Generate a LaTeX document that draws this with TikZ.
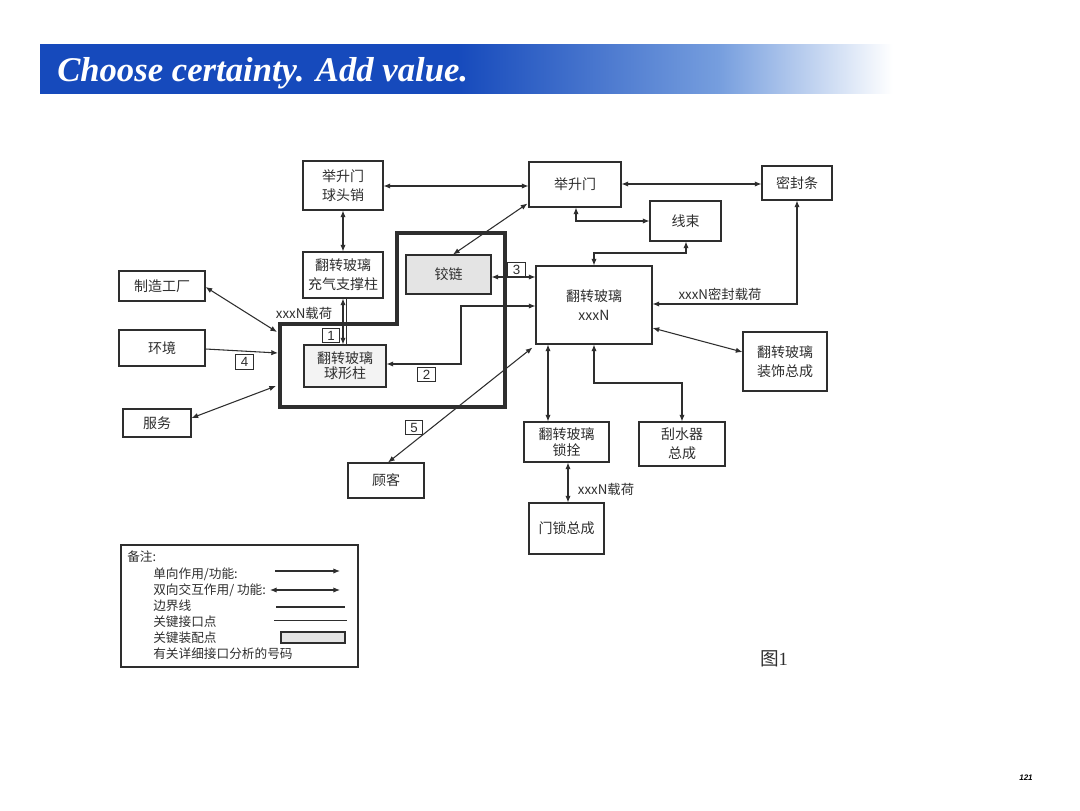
\documentclass[tikz,border=0pt]{standalone}
\usepackage{fontspec}
\setmainfont{Noto Sans CJK SC}
\newfontfamily\titlefont{Liberation Serif}
\newfontfamily\numfont{Liberation Sans}
\usetikzlibrary{arrows.meta,calc}
\definecolor{ink}{HTML}{2E2E2E}
\definecolor{bannerblue}{RGB}{22,74,188}
\definecolor{bannermid}{RGB}{118,158,222}
\definecolor{hinge}{HTML}{E4E4E4}
\definecolor{ball}{HTML}{F3F3F3}
\pgfdeclarehorizontalshading{bannershade}{100bp}{color(0bp)=(bannerblue); color(25bp)=(bannerblue); color(49bp)=(bannerblue); color(64bp)=(bannermid); color(74bp)=(white); color(100bp)=(white)}
\newcommand\bx[7][]{\node[box,#1,minimum width={(#5-#3)*0.75pt},minimum height={(#6-#4)*0.75pt}] (#2) at ({(#3+#5)/2},{(#4+#6)/2}) {#7};}
\begin{document}
\begin{tikzpicture}[x=0.75pt,y=-0.75pt,
  ln/.style={draw=ink,line width=0.8pt},
  uni/.style={ln,-{Latex[length=5pt,width=4pt]}},
  bi/.style={ln,{Latex[length=5pt,width=4pt]}-{Latex[length=5pt,width=4pt]}},
  box/.style={draw=ink,line width=0.8pt,inner sep=0pt,align=center,text=ink,font=\fontsize{10.5}{14}\selectfont},
  tight/.style={font=\fontsize{10.5}{11.5}\selectfont},
  num/.style={draw=ink,line width=0.7pt,inner sep=0pt,minimum width=13pt,minimum height=11pt,text=ink,font=\numfont\fontsize{10}{10}\selectfont},
  lbl/.style={text=ink,inner sep=0pt,font=\fontsize{10}{12}\selectfont},
  leg/.style={text=ink,inner sep=0pt,anchor=west,font=\fontsize{9.5}{11}\selectfont},
]
\useasboundingbox (0,0) rectangle (1080,810);
% banner
\shade[shading=bannershade] (40,44) rectangle (910,93);
\node[anchor=base west,text=white,inner sep=0pt,font=\titlefont\bfseries\itshape\fontsize{26}{26}\selectfont] (title) at (57,81) {Choose certainty. Add value.};

% boundary
\draw[draw=ink,line width=2.4pt,line join=miter] (397,233) -- (505,233) -- (505,407) -- (280,407) -- (280,324) -- (397,324) -- cycle;

% boxes
\bx{qtx}{303}{161}{383}{210}{举升门\\球头销}
\bx{czc}{303}{252}{383}{298}{翻转玻璃\\充气支撑柱}
\bx{zz}{119}{271}{205}{301}{制造工厂}
\bx[fill=hinge]{jl}{406}{255}{491}{294}{铰链}
\bx{hj}{119}{330}{205}{366}{环境}
\bx{fw}{123}{409}{191}{437}{服务}
\bx[fill=ball,tight]{qxz}{304}{345}{386}{387}{翻转玻璃\\球形柱}
\bx{gk}{348}{463}{424}{498}{顾客}
\bx{jsm}{529}{162}{621}{207}{举升门}
\bx{mft}{762}{166}{832}{200}{密封条}
\bx{xs}{650}{201}{721}{241}{线束}
\bx[fill=white]{fz}{536}{266}{652}{344}{翻转玻璃\\xxxN}
\bx{zs}{743}{332}{827}{391}{翻转玻璃\\装饰总成}
\bx[tight]{ss}{524}{422}{609}{462}{翻转玻璃\\锁拴}
\bx{gsq}{639}{422}{725}{466}{刮水器\\总成}
\bx{ms}{529}{503}{604}{554}{门锁总成}

% number labels
\node[num,fill=white] (n1) at (331,335.5) {1};
\node[num] (n2) at (426.5,374.5) {2};
\node[num] (n3) at (516.5,269.5) {3};
\node[num] (n4) at (244.5,362) {4};
\node[num] (n5) at (414,427.5) {5};

% boundary points
\coordinate (b1) at (277,332);
\coordinate (b2) at (278,353);
\coordinate (b3) at (276,386);

% connectors
\draw[bi] (qtx.east |- 0,186) -- (jsm.west |- 0,186);
\draw[bi] (qtx.south) -- (czc.north);
\draw[bi] ($(jsm.south west)+(-1,-4)$) -- (jl.north -| 453,0);
\draw[bi] (jl.east |- 0,277) -- (fz.west |- 0,277);
\draw[bi] (czc.south -| 343,0) -- (qxz.north -| 343,0);
\draw[ln] (czc.south -| 346.5,0) -- (qxz.north -| 346.5,0);
\draw[bi] (zz.east |- 0,287) -- (b1);
\draw[uni] (hj.east |- 0,349) -- (b2);
\draw[bi] (fw.east |- 0,418) -- (b3);
\draw[bi] (fz.west |- 0,306) -- (461,306) -- (461,364) -- (qxz.east |- 0,364);
\draw[bi] (gk.north -| 388,0) -- ($(fz.south west)+(-3,3)$);
\draw[bi] (jsm.east |- 0,184) -- (mft.west |- 0,184);
\draw[bi] (jsm.south -| 576,0) |- (xs.west |- 0,221);
\draw[bi] (xs.south -| 686,0) -- (686,253) -| (fz.north -| 594,0);
\draw[bi] (mft.south -| 797,0) |- (fz.east |- 0,304);
\draw[bi] (fz.east |- 0,328) -- (zs.west |- 0,352);
\draw[bi] (fz.south -| 548,0) -- (ss.north -| 548,0);
\draw[bi] (fz.south -| 594,0) -- (594,383) -| (gsq.north -| 682,0);
\draw[bi] (ss.south -| 568,0) -- (ms.north -| 568,0);

% load labels
\node[lbl] (l1) at (304,313) {xxxN载荷};
\node[lbl] (l2) at (720,294) {xxxN密封载荷};
\node[lbl] (l3) at (606,489) {xxxN载荷};

% legend
\draw[ink,line width=1pt] (121,545) rectangle (358,667);
\node[leg] (t0) at (127,557) {备注:};
\node[leg] (t1) at (153,574) {单向作用/功能:};
\node[leg] (t2) at (153,590) {双向交互作用/ 功能:};
\node[leg] (t3) at (153,606) {边界线};
\node[leg] (t4) at (153,622) {关键接口点};
\node[leg] (t5) at (153,638) {关键装配点};
\node[leg] (t6) at (153,654) {有关详细接口分析的号码};
\draw[uni] (275,571) -- (340,571);
\draw[bi] (270,590) -- (340,590);
\draw[ink,line width=1.4pt] (276,607) -- (345,607);
\draw[ink,line width=0.7pt] (274,620) -- (347,620);
\draw[ink,line width=0.9pt,fill=hinge] (281,632) rectangle (345,643);

\node[text=ink,inner sep=0pt,font=\fontsize{14}{14}\selectfont] (fig) at (774,659) {图{\titlefont 1}};
\node[text=black,inner sep=0pt,font=\numfont\bfseries\itshape\fontsize{6}{6}\selectfont] (pg) at (1026,778) {121};
\end{tikzpicture}
\end{document}
